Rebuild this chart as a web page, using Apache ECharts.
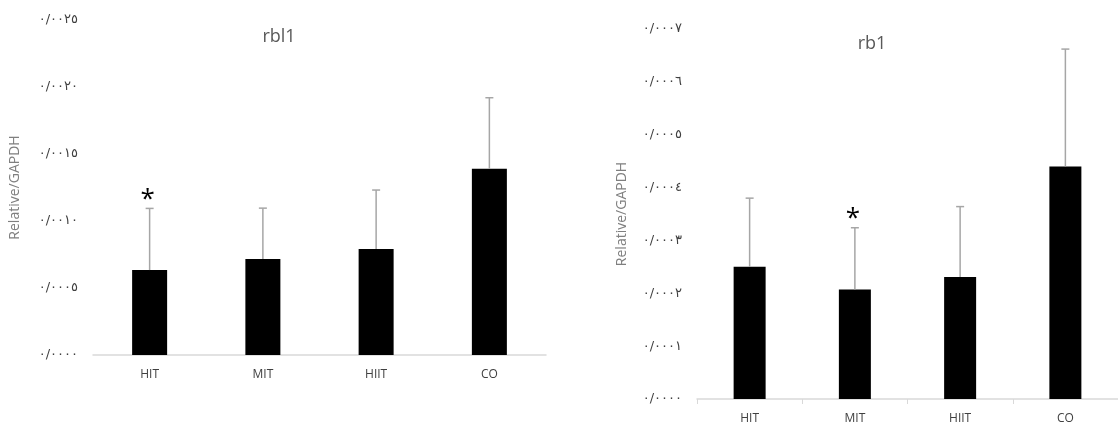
<!DOCTYPE html>
<html>
<head>
<meta charset="utf-8">
<script src="https://cdn.jsdelivr.net/npm/echarts@6/dist/echarts.min.js"></script>
<style>
html,body{margin:0;padding:0;background:#fff;}
#main{width:1118px;height:425px;}
</style>
</head>
<body>
<div id="main"></div>
<script>
//组别
var groups = ['HIT', 'MIT', 'HIIT', 'CO'];
//rbl1 均值与标准差
var rbl1Mean = [0.000634, 0.000716, 0.000791, 0.00139];
var rbl1Sd = [0.00046, 0.00038, 0.00044, 0.00053];
var rbl1Star = [true, false, false, false];
//rb1 均值与标准差
var rb1Mean = [0.000250, 0.000207, 0.000231, 0.000440];
var rb1Sd = [0.000130, 0.000117, 0.000133, 0.000222];
var rb1Star = [false, true, false, false];
//y轴刻度
var rbl1Ticks = { min: 0, max: 0.0025, interval: 0.0005 };
var rb1Ticks = { min: 0, max: 0.0007, interval: 0.0001 };

var font = 'Open Sans, DejaVu Sans, sans-serif';
var arabicDigits = ['\u0660', '\u0661', '\u0662', '\u0663', '\u0664', '\u0665', '\u0666', '\u0667', '\u0668', '\u0669'];

//把数字转成阿拉伯-印度数字，小数点用“/”
function toArabic(v) {
	var s = v.toFixed(4);
	var out = '';
	for (var i = 0; i < s.length; i++) {
		var c = s.charAt(i);
		if (c == '.') {
			out += '/';
		} else {
			out += arabicDigits[parseInt(c)];
		}
	}
	return out;
}

function errData(mean, sd) {
	var arr = [];
	for (var i = 0; i < mean.length; i++) {
		arr.push([i, mean[i], sd[i]]);
	}
	return arr;
}

//误差线（只画上半部分）和星号
function errorRender(stars) {
	return function (params, api) {
		var i = api.value(0);
		var base = api.coord([i, api.value(1)]);
		var top = api.coord([i, api.value(1) + api.value(2)]);
		var children = [{
			type: 'line',
			shape: { x1: base[0], y1: base[1], x2: top[0], y2: top[1] },
			style: { stroke: '#a6a6a6', lineWidth: 1.5 }
		}, {
			type: 'line',
			shape: { x1: top[0] - 4, y1: top[1], x2: top[0] + 4, y2: top[1] },
			style: { stroke: '#a6a6a6', lineWidth: 1.5 }
		}];
		if (stars[params.dataIndex]) {
			children.push({
				type: 'text',
				style: {
					text: '*', x: top[0] - 2, y: top[1] + 4, align: 'center', verticalAlign: 'bottom',
					fontSize: 26, fontFamily: font, fill: '#000'
				}
			});
		}
		return { type: 'group', children: children };
	};
}

function makeYAxis(ticks, idx, gap) {
	return {
		type: 'value',
		gridIndex: idx,
		min: ticks.min,
		max: ticks.max,
		interval: ticks.interval,
		name: 'Relative/GAPDH',
		nameLocation: 'middle',
		nameGap: gap,
		nameTextStyle: { color: '#7f7f7f', fontSize: 14, fontFamily: font },
		axisLine: { show: false },
		axisTick: { show: false },
		splitLine: { show: false },
		axisLabel: {
			color: '#404040', fontSize: 13, fontFamily: 'DejaVu Sans, sans-serif', margin: 15,
			formatter: function (v) { return toArabic(v); }
		}
	};
}

function makeXAxis(idx, showTick) {
	return {
		type: 'category',
		gridIndex: idx,
		data: groups,
		axisLine: { lineStyle: { color: '#d9d9d9', width: 1.5 } },
		axisTick: { show: showTick, length: 5, lineStyle: { color: '#d9d9d9' } },
		axisLabel: { color: '#404040', fontSize: 12, fontFamily: font, margin: 14 }
	};
}

var chart = echarts.init(document.getElementById('main'));
var option = {
	backgroundColor: '#fff',
	animation: false,
	title: [{
		text: 'rbl1', left: 274, top: 23, textAlign: 'center',
		textStyle: { color: '#595959', fontSize: 18, fontWeight: 'normal', fontFamily: font }
	}, {
		text: 'rb1', left: 867, top: 30, textAlign: 'center',
		textStyle: { color: '#595959', fontSize: 18, fontWeight: 'normal', fontFamily: font }
	}],
	grid: [
		{ left: 93, top: 20, width: 453, height: 335 },
		{ left: 697, top: 29, width: 428, height: 370 }
	],
	xAxis: [makeXAxis(0, false), makeXAxis(1, true)],
	yAxis: [makeYAxis(rbl1Ticks, 0, 71), makeYAxis(rb1Ticks, 1, 68)],
	series: [{
		type: 'bar',
		xAxisIndex: 0, yAxisIndex: 0,
		data: rbl1Mean,
		barWidth: 35,
		itemStyle: { color: '#000' }
	}, {
		type: 'custom',
		xAxisIndex: 0, yAxisIndex: 0,
		data: errData(rbl1Mean, rbl1Sd),
		renderItem: errorRender(rbl1Star),
		z: 3
	}, {
		type: 'bar',
		xAxisIndex: 1, yAxisIndex: 1,
		data: rb1Mean,
		barWidth: 32,
		itemStyle: { color: '#000' }
	}, {
		type: 'custom',
		xAxisIndex: 1, yAxisIndex: 1,
		data: errData(rb1Mean, rb1Sd),
		renderItem: errorRender(rb1Star),
		z: 3
	}]
};
chart.setOption(option);
</script>
</body>
</html>
